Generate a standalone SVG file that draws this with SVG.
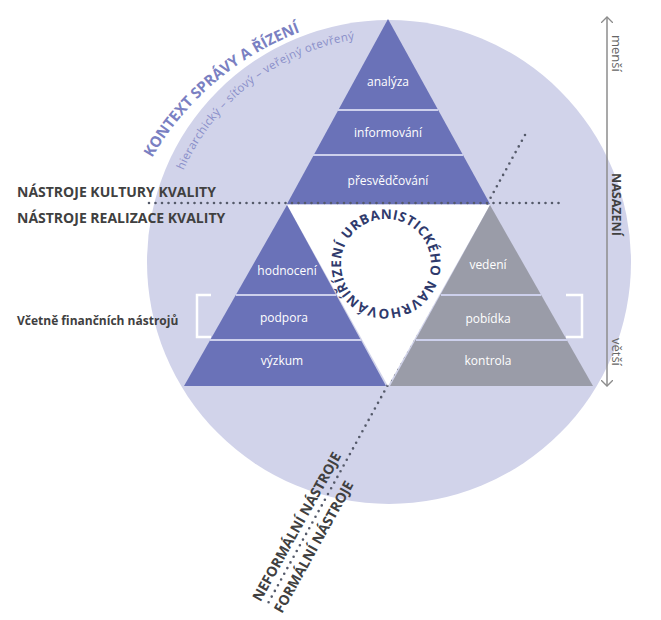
<svg xmlns="http://www.w3.org/2000/svg" width="661" height="620" viewBox="0 0 661 620">
<style>
.lbl{font-family:"Open Sans","Liberation Sans",sans-serif;font-size:12px;fill:#ffffff;text-anchor:middle}
.side{font-family:"Open Sans","Liberation Sans",sans-serif;font-weight:bold;fill:#404040}
.div{stroke:#cdd0ec;stroke-width:2}
.dots{fill:none;stroke:#555a6a;stroke-width:2.6;stroke-linecap:round;stroke-dasharray:0 6.5}
.brk{fill:none;stroke:#ffffff;stroke-width:2.5}
.blue{fill:#6a72b8}
.gray{fill:#9a9ca8}
</style>
<defs>
<path id="arcOuter" d="M152,158 A290,290 0 0 1 362.5,16.1"/>
<path id="arcInner" d="M183.5,170.5 A225,225 0 0 1 435.8,41.9"/>
<path id="ringPath" d="M348.69,289.16 A45,45 0 0 1 382.86,219.11 A45,45 0 0 1 426.45,283.73 A45,45 0 0 1 348.69,289.16"/>
<marker id="chev" viewBox="0 0 12 12" refX="6" refY="6" markerWidth="12" markerHeight="12" markerUnits="userSpaceOnUse" orient="auto-start-reverse">
<path d="M0,0 L6,6 L0,12" fill="none" stroke="#8c8c8c" stroke-width="1.3"/>
</marker>
</defs>

<g id="context-circle">
<circle cx="389" cy="262" r="242" fill="#d1d3ea"/>
<text font-family="Open Sans, Liberation Sans, sans-serif" font-weight="bold" font-size="15" fill="#7a80c2"><textPath href="#arcOuter">KONTEXT SPRÁVY A ŘÍZENÍ</textPath></text>
<text font-family="Open Sans, Liberation Sans, sans-serif" font-size="11.5" letter-spacing="0.4" fill="#8a8fc9"><textPath href="#arcInner">hierarchický – síťový – veřejný otevřený</textPath></text>
</g>

<g id="connectors">
<line class="dots" x1="525" y1="135" x2="266" y2="607"/>
</g>

<g id="center-triangle">
<polygon points="287,205 490,205 388,386" fill="#ffffff"/>
<text font-family="Open Sans, Liberation Sans, sans-serif" font-weight="bold" font-size="13.5" letter-spacing="0.6" fill="#2f3a6c"><textPath href="#ringPath">ŘÍZENÍ URBANISTICKÉHO NAVRHOVÁNÍ</textPath></text>
</g>

<g id="top-triangle">
<polygon class="blue" points="388,19 490,204 287,204"/>
<line class="div" x1="338" y1="110" x2="438" y2="110"/>
<line class="div" x1="313" y1="155" x2="463" y2="155"/>
<text class="lbl" x="388" y="86">analýza</text>
<text class="lbl" x="388" y="137">informování</text>
<text class="lbl" x="388" y="185">přesvědčování</text>
</g>

<g id="left-triangle">
<polygon class="blue" points="287,205 386,386 184,386"/>
<line class="div" x1="236" y1="295" x2="336" y2="295"/>
<line class="div" x1="210" y1="340" x2="361" y2="340"/>
<text class="lbl" x="287" y="275">hodnocení</text>
<text class="lbl" x="284" y="322">podpora</text>
<text class="lbl" x="282" y="365">výzkum</text>
</g>

<g id="right-triangle">
<polygon class="gray" points="490,205 593,386 390,386"/>
<line class="div" x1="441" y1="295" x2="541" y2="295"/>
<line class="div" x1="416" y1="340" x2="567" y2="340"/>
<text class="lbl" x="488" y="269">vedení</text>
<text class="lbl" x="488" y="323">pobídka</text>
<text class="lbl" x="488" y="365">kontrola</text>
</g>

<g id="divider-line">
<line class="dots" x1="149" y1="203" x2="562" y2="203"/>
</g>

<g id="labels-left">
<text class="side" x="17" y="197" font-size="14">NÁSTROJE KULTURY KVALITY</text>
<text class="side" x="17" y="223" font-size="14">NÁSTROJE REALIZACE KVALITY</text>
<text class="side" x="17" y="325" font-size="12">Včetně finančních nástrojů</text>
</g>

<g id="brackets">
<path class="brk" d="M211,295 H197 V337 H211"/>
<path class="brk" d="M566,295 H582 V337 H566"/>
</g>

<g id="scale">
<line x1="607" y1="17" x2="607" y2="386" stroke="#8c8c8c" stroke-width="1.5" marker-start="url(#chev)" marker-end="url(#chev)"/>
<text transform="translate(612,35) rotate(90)" font-family="Open Sans, Liberation Sans, sans-serif" font-size="13" fill="#666666">menší</text>
<text transform="translate(612,173) rotate(90)" class="side" font-size="12.5">NASAZENÍ</text>
<text transform="translate(612,338) rotate(90)" font-family="Open Sans, Liberation Sans, sans-serif" font-size="13" fill="#666666">větší</text>
</g>

<g id="formal-labels">
<text transform="translate(260.5,602.2) rotate(-61)" class="side" font-size="14">NEFORMÁLNÍ NÁSTROJE</text>
<text transform="translate(282,614) rotate(-61)" class="side" font-size="14">FORMÁLNÍ NÁSTROJE</text>
</g>
</svg>
